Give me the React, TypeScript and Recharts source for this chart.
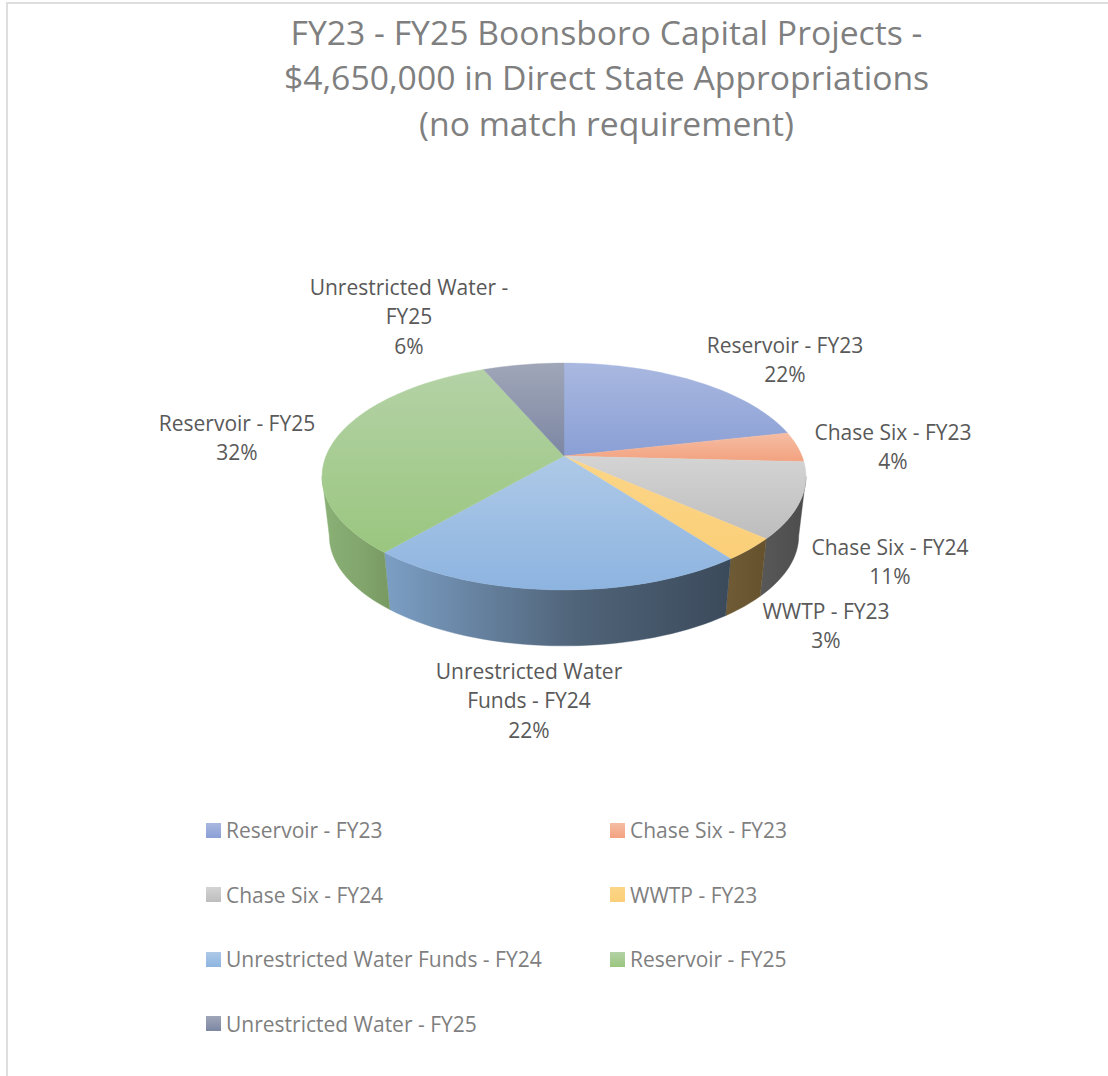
import React from 'react';
import { PieChart, Pie, Legend } from 'recharts';

// dollar amounts, they add up to the $4,650,000 in the title
const projects = [
    'Reservoir - FY23',
    'Chase Six - FY23',
    'Chase Six - FY24',
    'WWTP - FY23',
    'Unrestricted Water Funds - FY24',
    'Reservoir - FY25',
    'Unrestricted Water - FY25',
];
const amounts = [1000000, 200000, 500000, 150000, 1000000, 1500000, 300000];

const titleLines = [
    'FY23 - FY25 Boonsboro Capital Projects -',
    '$4,650,000 in Direct State Appropriations',
    '(no match requirement)',
];

// how each data label wraps
const labelWraps = [
    ['Reservoir - FY23'],
    ['Chase Six - FY23'],
    ['Chase Six - FY24'],
    ['WWTP - FY23'],
    ['Unrestricted Water', 'Funds - FY24'],
    ['Reservoir - FY25'],
    ['Unrestricted Water -', 'FY25'],
];

// top face gradient (light to dark), then side wall gradient (left, middle, right)
const topLight = ['#a9b8e0', '#f5bda3', '#d4d4d4', '#fbd587', '#aec9e7', '#b4d2a6', '#a0a6b8'];
const topDark = ['#8a9fd5', '#f3a27f', '#bdbdbd', '#fbcf78', '#8db4e0', '#9ac67f', '#7c87a3'];
const wallLeft = ['#6f82ad', '#a56a4e', '#585858', '#6f5b35', '#7c9fc5', '#8bb177', '#555'];
const wallMid = ['#6f82ad', '#a56a4e', '#525252', '#6a5731', '#506479', '#82a66d', '#555'];
const wallRight = ['#6f82ad', '#a56a4e', '#4c4c4c', '#65522d', '#3b4a5b', '#789a62', '#555'];

// centre of the first line of each data label
const labelX = [785, 893, 890, 826, 529, 237, 409];
const labelY = [344.5, 431.5, 546.5, 610.5, 670.5, 422.5, 286.5];

const CX = 564;
const CY = 456;
const RADIUS = 238;
const TILT = 0.461; // squash of the disc
const PERSPECTIVE = 0.1806; // near edge looks bigger than the far edge
const WALL_DROP = 60;
const WALL_SHRINK = 0.97;
const WALL_FROM = 100.4; // degrees clockwise from the top where the rim turns away
const WALL_TO = 259.6;

const total = amounts.reduce((a, b) => a + b, 0);
const tableData = projects.map((name, i) => ({ name, amount: amounts[i] }));

// clockwise degrees from the top of the pie -> point on the tilted top face
const project = (deg: number) => {
    const rad = (deg * Math.PI) / 180;
    const u = Math.sin(rad);
    const v = Math.cos(rad);
    const w = 1 + PERSPECTIVE * v;
    return { x: CX + (RADIUS * u) / w, y: CY - (RADIUS * TILT * v) / w };
};

const projectBottom = (deg: number) => {
    const p = project(deg);
    return {
        x: CX + (p.x - CX) * WALL_SHRINK,
        y: CY + WALL_DROP + (p.y - CY) * WALL_SHRINK,
    };
};

const arcPoints = (from: number, to: number, fn: (d: number) => { x: number; y: number }) => {
    const steps = Math.max(2, Math.ceil(Math.abs(to - from) / 2));
    const pts: string[] = [];
    for (let s = 0; s <= steps; s++) {
        const p = fn(from + ((to - from) * s) / steps);
        pts.push(`${p.x.toFixed(2)},${p.y.toFixed(2)}`);
    }
    return pts;
};

const TopFace = (props: any) => {
    const from = 90 - props.startAngle;
    const to = 90 - props.endAngle;
    const i = projects.indexOf(props.name);
    const d = `M${CX},${CY} L${arcPoints(from, to, project).join(' L')} Z`;
    return <path d={d} fill={`url(#top${i})`} stroke={`url(#top${i})`} strokeWidth={0.4} />;
};

const WallFace = (props: any) => {
    const from = Math.max(90 - props.startAngle, WALL_FROM);
    const to = Math.min(90 - props.endAngle, WALL_TO);
    if (to <= from) return <g />;
    const i = projects.indexOf(props.name);
    const top = arcPoints(from, to, project);
    const bottom = arcPoints(to, from, projectBottom);
    const id = `url(#wall${i})`;
    return <path d={`M${top.join(' L')} L${bottom.join(' L')} Z`} fill={id} stroke={id} strokeWidth={0.4} />;
};

const renderLabel = (props: any) => {
    const i = projects.indexOf(props.name);
    const lines = [...labelWraps[i], `${Math.round((amounts[i] / total) * 100)}%`];
    return (
        <text key={i} textAnchor="middle" fill="#595959" fontSize={21} fontFamily="'Open Sans'">
            {lines.map((line, n) => (
                <tspan key={n} x={labelX[i]} y={labelY[i] + n * 29.5} dominantBaseline="central">
                    {line}
                </tspan>
            ))}
        </text>
    );
};

const renderLegend = () => (
    <div
        style={{
            display: 'grid',
            gridTemplateColumns: '404px 300px',
            gridAutoRows: '64.5px',
            fontFamily: "'Open Sans'",
            fontSize: 21,
            color: '#7f7f7f',
        }}
    >
        {projects.map((name, i) => (
            <div key={name} style={{ display: 'flex', alignItems: 'center', height: 30, whiteSpace: 'nowrap' }}>
                <span
                    style={{
                        display: 'inline-block',
                        width: 15,
                        height: 15,
                        marginRight: 5,
                        background: `linear-gradient(${topLight[i]}, ${topDark[i]})`,
                    }}
                />
                {name}
            </div>
        ))}
    </div>
);

export default function App() {
    return (
        <div style={{ position: 'absolute', left: 0, top: 0, width: 1108, height: 1076, overflow: 'hidden' }}>
            <div
                style={{
                    position: 'absolute',
                    left: 6,
                    top: 2,
                    right: 0,
                    bottom: 0,
                    borderLeft: '2px solid #dedede',
                    borderTop: '2px solid #dedede',
                }}
            />
            <PieChart width={1108} height={1076} style={{ position: 'absolute', left: 0, top: 0 }}>
                <defs>
                    {projects.map((_, i) => (
                        <linearGradient key={`t${i}`} id={`top${i}`} x1="0" y1="0" x2="0" y2="1">
                            <stop offset="0%" stopColor={topLight[i]} />
                            <stop offset="100%" stopColor={topDark[i]} />
                        </linearGradient>
                    ))}
                    {projects.map((_, i) => (
                        <linearGradient key={`w${i}`} id={`wall${i}`} x1="0" y1="0" x2="1" y2="0">
                            <stop offset="0%" stopColor={wallLeft[i]} />
                            <stop offset="55%" stopColor={wallMid[i]} />
                            <stop offset="100%" stopColor={wallRight[i]} />
                        </linearGradient>
                    ))}
                </defs>
                <text textAnchor="middle" fill="#7f7f7f" fontSize={33.7} fontFamily="'Open Sans'">
                    {titleLines.map((line, n) => (
                        <tspan key={n} x={606.5} y={31.5 + n * 45.5} dominantBaseline="central">
                            {line}
                        </tspan>
                    ))}
                </text>
                <Pie
                    data={tableData}
                    dataKey="amount"
                    nameKey="name"
                    cx={CX}
                    cy={CY}
                    outerRadius={RADIUS}
                    startAngle={90}
                    endAngle={-270}
                    shape={WallFace}
                    legendType="none"
                    isAnimationActive={false}
                />
                <Pie
                    data={tableData}
                    dataKey="amount"
                    nameKey="name"
                    cx={CX}
                    cy={CY}
                    outerRadius={RADIUS}
                    startAngle={90}
                    endAngle={-270}
                    shape={TopFace}
                    label={renderLabel}
                    labelLine={false}
                    isAnimationActive={false}
                />
                <Legend
                    content={renderLegend}
                    wrapperStyle={{ position: 'absolute', left: 206, top: 815, width: 720, height: 240 }}
                />
            </PieChart>
        </div>
    );
}
